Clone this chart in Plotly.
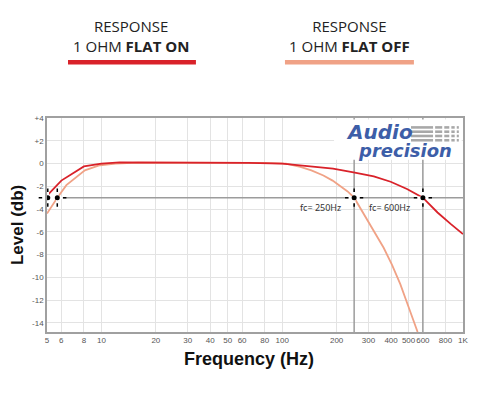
import numpy as np
import plotly.graph_objects as go

# FLAT ON (red) frequency response
on_hz = [5.05, 6, 8, 10, 12.6, 20, 40, 65, 100, 126, 160, 191, 248, 321, 398, 490, 600, 723, 854, 1000]
on_db = [-2.75, -1.5, -0.25, 0.0, 0.1, 0.1, 0.08, 0.05, 0.0, -0.15, -0.3, -0.45, -0.77, -1.12, -1.6, -2.24, -3.0, -4.3, -5.3, -6.2]

# FLAT OFF (salmon) frequency response
off_hz = [5, 5.7, 6.4, 8.1, 9.8, 12, 16, 40, 80, 105, 126, 145, 169, 190, 209, 230, 250, 288, 321, 364, 405, 450, 500, 561]
off_db = [-4.4, -3.0, -1.9, -0.6, -0.15, 0.0, 0.08, 0.08, 0.05, 0.0, -0.3, -0.6, -1.05, -1.5, -1.95, -2.45, -3.0, -4.7, -6.0, -7.4, -8.9, -10.6, -12.6, -14.8]

# -3 dB crossing points
cut_hz = [5.05, 5.7, 250, 600]
cut_db = [-3, -3, -3, -3]
fc_hz = [250, 600]
fc_text = ["fc= 250Hz", "fc= 600Hz"]

x_ticks = [5, 6, 8, 10, 20, 30, 40, 50, 60, 80, 100, 200, 300, 400, 500, 600, 800, 1000]
x_labels = ["5", "6", "8", "10", "20", "30", "40", "50", "60", "80", "100", "200", "300", "400", "500", "600", "800", "1K"]
y_ticks = [4, 2, 0, -2, -4, -6, -8, -10, -12, -14]
y_labels = ["+4", "+2", "0", "-2", "-4", "-6", "-8", "-10", "-12", "-14"]

RED = "#d9222a"
SALMON = "#f0a286"
GUIDE = "#9c9c9c"
y_min, y_max = -14.8, 4

fig = go.Figure()

# guide lines at -3 dB and the two cutoffs
fig.add_trace(go.Scatter(x=[5, 1000], y=[-3, -3], mode="lines",
                         line=dict(color=GUIDE, width=1.5), hoverinfo="skip"))
for f in fc_hz:
    fig.add_trace(go.Scatter(x=[f, f], y=[y_min, y_max], mode="lines",
                             line=dict(color=GUIDE, width=1.5), hoverinfo="skip"))

fig.add_trace(go.Scatter(x=off_hz, y=off_db, mode="lines", name="FLAT OFF",
                         line=dict(color=SALMON, width=1.8)))
fig.add_trace(go.Scatter(x=on_hz, y=on_db, mode="lines", name="FLAT ON",
                         line=dict(color=RED, width=1.8)))

# crosshair markers
fig.add_trace(go.Scatter(x=cut_hz, y=cut_db, mode="markers", cliponaxis=False,
                         marker=dict(symbol="cross-thin", size=13, line=dict(color="black", width=1.5))))
fig.add_trace(go.Scatter(x=cut_hz, y=cut_db, mode="markers", cliponaxis=False,
                         marker=dict(symbol="cross-thin", size=8, line=dict(color="white", width=2.5))))
fig.add_trace(go.Scatter(x=cut_hz, y=cut_db, mode="markers", cliponaxis=False,
                         marker=dict(symbol="circle", size=5, color="black")))

for f, t in zip(fc_hz, fc_text):
    fig.add_annotation(x=np.log10(f), y=-3, text=t, showarrow=False, xanchor="right",
                       xshift=-11, yshift=-10, font=dict(family="Noto Sans", size=9, color="#333"))

# legend-like header
fig.add_annotation(x=0.202, y=1.382, xref="paper", yref="paper", showarrow=False,
                   xanchor="center", yanchor="middle",
                   text="RESPONSE<br>1 OHM <b>FLAT ON</b>",
                   font=dict(family="Open Sans", size=15, color="#222"))
fig.add_annotation(x=0.728, y=1.382, xref="paper", yref="paper", showarrow=False,
                   xanchor="center", yanchor="middle",
                   text="RESPONSE<br>1 OHM <b>FLAT OFF</b>",
                   font=dict(family="Open Sans", size=15, color="#222"))
fig.add_shape(type="line", xref="paper", yref="paper", x0=0.0505, x1=0.358, y0=1.26, y1=1.26,
              line=dict(color=RED, width=4.5))
fig.add_shape(type="line", xref="paper", yref="paper", x0=0.572, x1=0.882, y0=1.26, y1=1.26,
              line=dict(color=SALMON, width=4.5))

# Audio Precision logo
fig.add_shape(type="rect", xref="paper", yref="paper", x0=0.69, x1=0.997, y0=0.805, y1=0.993,
              fillcolor="white", line=dict(width=0), layer="above")
fig.add_annotation(x=0.714, y=0.935, xref="paper", yref="paper", showarrow=False,
                   xanchor="left", yanchor="middle",
                   text="<b><i>Audio</i></b>", font=dict(family="DejaVu Sans", size=20, color="#3d5ea8"))
fig.add_annotation(x=0.742, y=0.85, xref="paper", yref="paper", showarrow=False,
                   xanchor="left", yanchor="middle",
                   text="<b><i>precision</i></b>", font=dict(family="DejaVu Sans", size=18, color="#3d5ea8"))
cols = [(0.875, 0.928), (0.933, 0.95), (0.955, 0.967), (0.972, 0.98), (0.985, 0.99)]
for r in range(4):
    y0 = 0.95 - r * 0.02
    for a, b in cols:
        fig.add_shape(type="rect", xref="paper", yref="paper", x0=a, x1=b, y0=y0, y1=y0 + 0.012,
                      fillcolor="#a8a8a8", line=dict(width=0), layer="above")

# axis titles
fig.add_annotation(x=-0.072, y=0.5, xref="paper", yref="paper", showarrow=False, textangle=-90,
                   xanchor="center", yanchor="middle",
                   text="<b>Level (db)</b>", font=dict(family="Liberation Sans", size=17, color="#111"))
fig.add_annotation(x=0.486, y=-0.128, xref="paper", yref="paper", showarrow=False,
                   xanchor="center", yanchor="middle",
                   text="<b>Frequency (Hz)</b>", font=dict(family="Liberation Sans", size=18, color="#111"))

fig.update_xaxes(type="log", range=[np.log10(5), np.log10(1000)], tickvals=x_ticks, ticktext=x_labels,
                 tickangle=0, automargin=False,
                 showgrid=True, gridcolor="#e3e3e3", gridwidth=1, showline=True, linecolor="#a0a0a0",
                 linewidth=1.5, mirror=True, zeroline=False,
                 tickfont=dict(family="Liberation Sans", size=8, color="#555"))
fig.update_yaxes(range=[y_min, y_max], tickvals=y_ticks, ticktext=y_labels, automargin=False,
                 showgrid=True, gridcolor="#e3e3e3", gridwidth=1, showline=True, linecolor="#a0a0a0",
                 linewidth=1.5, mirror=True, zeroline=False,
                 tickfont=dict(family="Liberation Sans", size=8, color="#555"))

fig.update_layout(width=480, height=401, showlegend=False, plot_bgcolor="white", paper_bgcolor="white",
                  margin=dict(l=47, r=17, t=118, b=69))

# page body has a default margin; drop it so the figure sits at the window corner
fig.write_html("out.html", config={"displayModeBar": False},
               post_script="document.body.style.margin='0';")
